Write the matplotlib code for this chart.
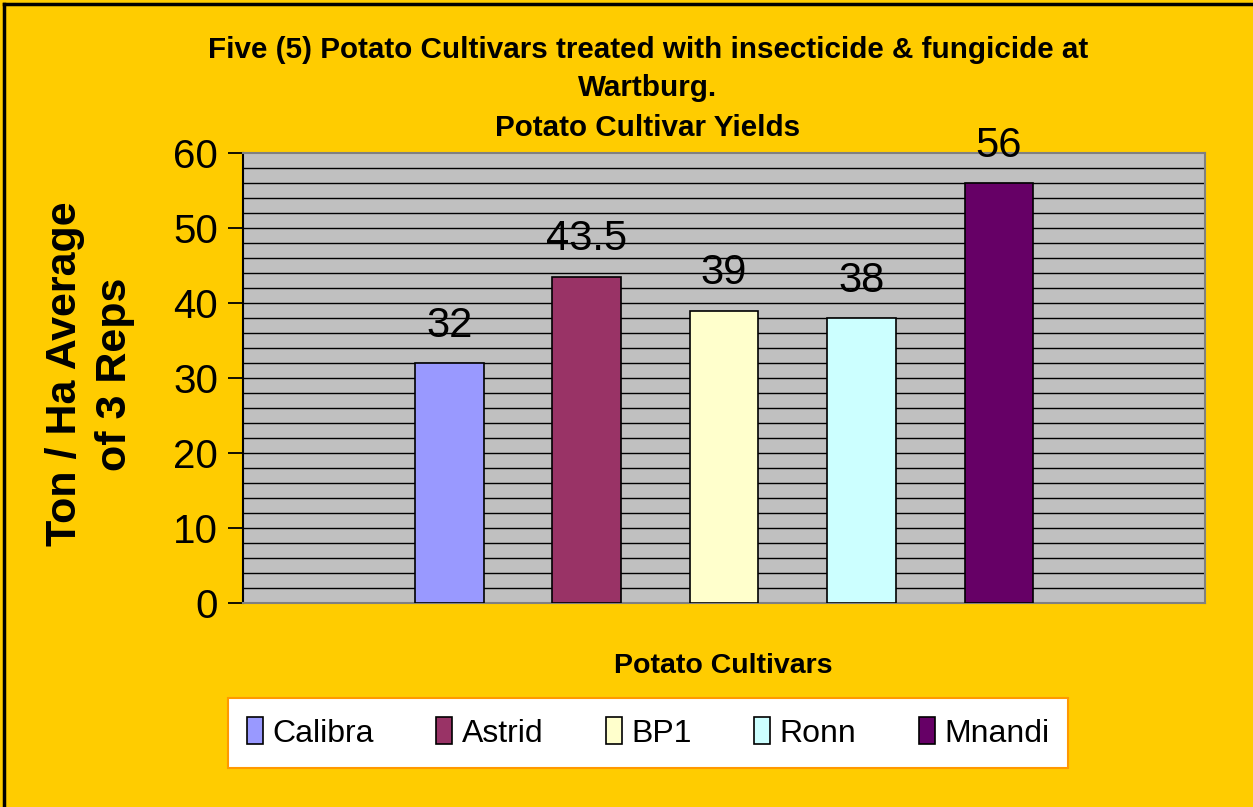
import matplotlib.pyplot as plt
import numpy as np
from matplotlib.lines import Line2D

cultivars = ['Calibra', 'Astrid', 'BP1', 'Ronn', 'Mnandi']
yields = [32, 43.5, 39, 38, 56]
labels = ['32', '43.5', '39', '38', '56']
colors = ['#9999FF', '#993366', '#FFFFCC', '#CCFFFF', '#660066']
yticks = [0, 10, 20, 30, 40, 50, 60]

plt.rcParams['font.family'] = ['Liberation Sans', 'DejaVu Sans']

fig = plt.figure(figsize=(12.53, 8.07), dpi=100, facecolor='#FFCC00')
ax = fig.add_axes([243/1253, 1 - 603/807, (1205-243)/1253, (603-153)/807])
ax.set_facecolor('#C0C0C0')

# bars sit in slots 1..5 of 7 (first and last slot empty, as in the original)
x = np.arange(1, len(cultivars) + 1)
ax.bar(x, yields, width=0.5, color=colors, edgecolor='black',
       linewidth=1.2, zorder=3)

for xi, yi, lab in zip(x, yields, labels):
    ax.annotate(lab, (xi, yi), xytext=(0, 19), textcoords='offset points',
                ha='center', va='baseline', fontsize=30, zorder=4,
                annotation_clip=False)

ax.set_xlim(-0.5, 6.5)
ax.set_ylim(0, 60)
ax.set_yticks(yticks)
ax.tick_params(axis='y', labelsize=29, length=11, width=1.3,
               direction='out', pad=7)
ax.set_xticks([])

# horizontal grid every 2 units
for yv in np.arange(2, 60, 2):
    ax.axhline(yv, color='black', linewidth=1.0, zorder=1)

ax.spines['left'].set_color('black')
ax.spines['left'].set_linewidth(1.5)
for s in ['top', 'right', 'bottom']:
    ax.spines[s].set_color('#808080')
    ax.spines[s].set_linewidth(1.5)

fig.text(648/1253, 1 - 50/807, 'Five (5) Potato Cultivars treated with insecticide & fungicide at',
         ha='center', va='center', fontsize=21.3, fontweight='bold')
fig.text(648/1253, 1 - 88/807, 'Wartburg.', ha='center', va='center',
         fontsize=21.3, fontweight='bold')
fig.text(648/1253, 1 - 128/807, 'Potato Cultivar Yields', ha='center', va='center',
         fontsize=21.3, fontweight='bold')

fig.text(90/1253, 1 - 374/807, 'Ton / Ha Average\nof 3 Reps', rotation=90,
         ha='center', va='center', fontsize=31, fontweight='bold', linespacing=1.3)
fig.text(723/1253, 1 - 666/807, 'Potato Cultivars', ha='center', va='center',
         fontsize=20.5, fontweight='bold')

handles = [plt.Rectangle((0, 0), 1, 1, facecolor=c, edgecolor='black', linewidth=1.2)
           for c in colors]
leg = fig.legend(handles, cultivars, loc='center', ncol=5,
                 bbox_to_anchor=(648/1253, 1 - 733/807), fontsize=23,
                 frameon=True, fancybox=False, framealpha=1,
                 handlelength=0.5, handleheight=0.9,
                 handletextpad=0.3, columnspacing=1.95, borderpad=0.6)
leg.get_frame().set_facecolor('white')
leg.get_frame().set_edgecolor('#FF9900')
leg.get_frame().set_linewidth(1.5)

# outer border (top and left visible in the original)
fig.add_artist(Line2D([4/1253, 4/1253], [0, 1 - 4/807], transform=fig.transFigure,
                      color='black', linewidth=2.5))
fig.add_artist(Line2D([4/1253, 1], [1 - 4/807, 1 - 4/807], transform=fig.transFigure,
                      color='black', linewidth=2.5))

fig.savefig('out.png', dpi=100, facecolor=fig.get_facecolor())
